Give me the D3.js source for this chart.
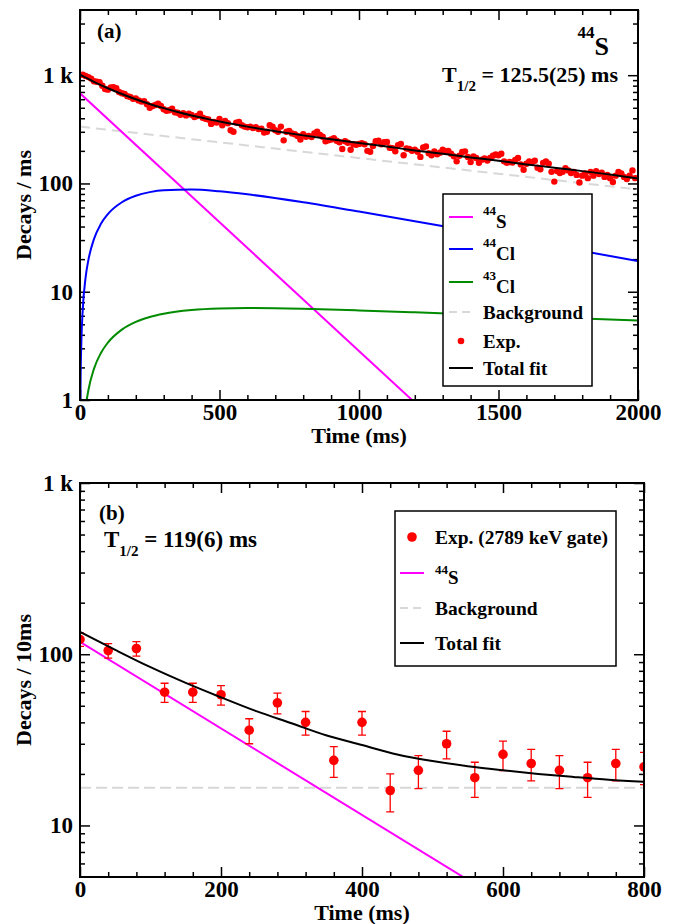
<!DOCTYPE html>
<html>
<head>
<meta charset="utf-8">
<script src="https://cdn.jsdelivr.net/npm/d3@7"></script>
<style>
body { margin: 0; background: #fff; }
svg, svg text { font-family: "Liberation Serif", "DejaVu Serif", serif !important; font-weight: bold; }
</style>
</head>
<body>
<div id="vis"></div>
<script>
// ---------- panel (a) data : decays per ms, 10 ms bins ----------
const A_TIME = [
  0,10,20,30,40,50,60,70,80,90,100,110,120,130,140,150,160,170,180,190,
  200,210,220,230,240,250,260,270,280,290,300,310,320,330,340,350,360,370,380,390,
  400,410,420,430,440,450,460,470,480,490,500,510,520,530,540,550,560,570,580,590,
  600,610,620,630,640,650,660,670,680,690,700,710,720,730,740,750,760,770,780,790,
  800,810,820,830,840,850,860,870,880,890,900,910,920,930,940,950,960,970,980,990,
  1000,1010,1020,1030,1040,1050,1060,1070,1080,1090,1100,1110,1120,1130,1140,1150,1160,1170,1180,1190,
  1200,1210,1220,1230,1240,1250,1260,1270,1280,1290,1300,1310,1320,1330,1340,1350,1360,1370,1380,1390,
  1400,1410,1420,1430,1440,1450,1460,1470,1480,1490,1500,1510,1520,1530,1540,1550,1560,1570,1580,1590,
  1600,1610,1620,1630,1640,1650,1660,1670,1680,1690,1700,1710,1720,1730,1740,1750,1760,1770,1780,1790,
  1800,1810,1820,1830,1840,1850,1860,1870,1880,1890,1900,1910,1920,1930,1940,1950,1960,1970,1980,1990
];
const A_COUNTS = [
  1005,1010,985,960,930, 880,870,860,800,745, 735,770,775,760,700, 680,670,640,630,605,
  610,585,570,575,540, 500,520,530,545,520, 485,470,475,490,455, 450,430,445,425,440,
  430,410,420,440,405, 395,390,355,370,365, 395,345,378,360,310, 300,365,370,345,335,
  330,335,325,330,318, 320,295,300,345,335, 310,300,335,250,300, 305,290,285,275,255,
  285,270,275,268,290, 300,280,270,245,250, 255,262,248,240,208, 245,238,205,230,228,
  232,236,230,200,196, 222,245,248,230,240, 242,214,212,198,226, 232,182,210,208,200,
  205,196,176,215,220, 190,182,198,186,192, 205,198,200,188,178, 160,180,195,198,176,
  158,178,172,155,166, 170,163,172,180,185, 182,188,160,155,158, 156,165,172,150,134,
  152,160,157,162,140, 135,155,160,152,128, 104,130,125,128,138, 132,125,128,120,102,
  118,124,112,128,118, 130,122,126,115,120, 112,103,118,128,124, 115,110,118,132,112
];
const A_ERR = [
  10.0,10.0,9.9,9.8,9.6, 9.4,9.3,9.3,8.9,8.6, 8.6,8.8,8.8,8.7,8.4, 8.2,8.2,8.0,7.9,7.8,
  7.8,7.6,7.5,7.6,7.3, 7.1,7.2,7.3,7.4,7.2, 7.0,6.9,6.9,7.0,6.7, 6.7,6.6,6.7,6.5,6.6,
  6.6,6.4,6.5,6.6,6.4, 6.3,6.2,6.0,6.1,6.0, 6.3,5.9,6.1,6.0,5.6, 5.5,6.0,6.1,5.9,5.8,
  5.7,5.8,5.7,5.7,5.6, 5.7,5.4,5.5,5.9,5.8, 5.6,5.5,5.8,5.0,5.5, 5.5,5.4,5.3,5.2,5.0,
  5.3,5.2,5.2,5.2,5.4, 5.5,5.3,5.2,4.9,5.0, 5.0,5.1,5.0,4.9,4.6, 4.9,4.9,4.5,4.8,4.8,
  4.8,4.9,4.8,4.5,4.4, 4.7,4.9,5.0,4.8,4.9, 4.9,4.6,4.6,4.4,4.8, 4.8,4.3,4.6,4.6,4.5,
  4.5,4.4,4.2,4.6,4.7, 4.4,4.3,4.4,4.3,4.4, 4.5,4.4,4.5,4.3,4.2, 4.0,4.2,4.4,4.4,4.2,
  4.0,4.2,4.1,3.9,4.1, 4.1,4.0,4.1,4.2,4.3, 4.3,4.3,4.0,3.9,4.0, 3.9,4.1,4.1,3.9,3.7,
  3.9,4.0,4.0,4.0,3.7, 3.7,3.9,4.0,3.9,3.6, 3.2,3.6,3.5,3.6,3.7, 3.6,3.5,3.6,3.5,3.2,
  3.4,3.5,3.3,3.6,3.4, 3.6,3.5,3.5,3.4,3.5, 3.3,3.2,3.4,3.6,3.5, 3.4,3.3,3.4,3.6,3.3
];

// fitted components of panel (a)
const A_S_T = [0, 1250];
const A_S_V = [680, 0.72];
const A_CL44_T = [1, 2, 5, 10, 20, 30, 50, 75, 100, 150, 200, 250, 300, 400, 500, 600, 800, 1000, 1200, 1400, 1600, 1800, 2000];
const A_CL44_V = [0.72, 1.43, 3.54, 6.97, 13.5, 19.6, 30.6, 42.4, 52.2, 67.1, 77.0, 83.2, 86.6, 87.8, 84.6, 79.4, 67.0, 55.0, 44.8, 36.3, 29.4, 23.8, 19.2];
const A_CL43_T = [10, 20, 30, 50, 75, 100, 150, 200, 250, 300, 400, 500, 600, 800, 1000, 1200, 1400, 1600, 1800, 2000];
const A_CL43_V = [0.43, 0.84, 1.23, 1.94, 2.72, 3.39, 4.47, 5.27, 5.85, 6.27, 6.78, 7.01, 7.07, 6.95, 6.72, 6.45, 6.17, 5.91, 5.65, 5.41];
const A_BG_T = [0, 2000];
const A_BG_V = [335, 88];
const A_FIT_T = [0, 50, 100, 150, 200, 250, 300, 350, 400, 450, 500, 550, 600, 700, 800, 900, 1000, 1100, 1200, 1300, 1400, 1500, 1600, 1700, 1800, 1900, 2000];
const A_FIT_V = [1011, 869, 758, 670, 599, 542, 496, 457, 425, 398, 374, 354, 335, 304, 278, 256, 236, 219, 202, 188, 174, 162, 150, 140, 130, 121, 111];

// ---------- panel (b) data : decays per 10 ms, 2789 keV gate ----------
const B_TIME = [0,40,80,120,160,200,240,280,320,360,400,440,480,520,560,600,640,680,720,760,800];
const B_COUNTS = [122,105,108,60,60,58,36,52,40,24,40,16,21,30,19,26,23,21,19,23,22];
const B_ERR = [11.0,10.2,10.4,7.7,7.7,7.6,6.0,7.2,6.3,4.9,6.3,4.0,4.6,5.5,4.4,5.1,4.8,4.6,4.4,4.8,4.7];
const B_S_T = [0, 600];
const B_S_V = [118, 3.6];
const B_BG_T = [0, 800];
const B_BG_V = [16.6, 16.6];
const B_FIT_T = [0, 50, 100, 150, 200, 250, 300, 350, 400, 450, 500, 550, 600, 650, 700, 750, 800];
const B_FIT_V = [135, 106, 84, 68, 56, 46.5, 39.5, 33.5, 29.5, 26, 23.8, 22.2, 21, 20, 19.2, 18.5, 18];

// ticks and labels
const A_X_MAJOR = [0, 500, 1000, 1500, 2000];
const A_X_LABELS = ["0", "500", "1000", "1500", "2000"];
const A_X_MINOR = [100,200,300,400,600,700,800,900,1100,1200,1300,1400,1600,1700,1800,1900];
const A_Y_MAJOR = [1, 10, 100, 1000];
const A_Y_LABELS = ["1", "10", "100", "1 k"];
const A_Y_MINOR = [2,3,4,5,6,7,8,9,20,30,40,50,60,70,80,90,200,300,400,500,600,700,800,900,2000,3000];
const B_X_MAJOR = [0, 200, 400, 600, 800];
const B_X_LABELS = ["0", "200", "400", "600", "800"];
const B_X_MINOR = [40,80,120,160,240,280,320,360,440,480,520,560,640,680,720,760];
const B_Y_MAJOR = [10, 100, 1000];
const B_Y_LABELS = ["10", "100", "1 k"];
const B_Y_MINOR = [6,7,8,9,20,30,40,50,60,70,80,90,200,300,400,500,600,700,800,900];

// ---------- frame ----------
const FRAME_WIDTH = 676;
const FRAME_HEIGHT = 924;
const BOX_A = {left: 80, right: 638, top: 10, bottom: 400};
const BOX_B = {left: 80, right: 644, top: 483, bottom: 877};
const FONT = "'Liberation Serif', 'DejaVu Serif', serif";

const COL = {s: "#ff00ff", cl44: "#0000ff", cl43: "#008b00", bg: "#d8d8d8", exp: "#ff0000", fit: "#000000"};

const SVG = d3.select("#vis")
  .append("svg")
    .attr("width", FRAME_WIDTH)
    .attr("height", FRAME_HEIGHT)
    .attr("font-family", FONT)
    .attr("font-weight", "bold")
    .style("background", "#fff");

const X_A = d3.scaleLinear().domain([0, 2000]).range([BOX_A.left, BOX_A.right]);
const Y_A = d3.scaleLog().domain([1, 4000]).range([BOX_A.bottom, BOX_A.top]);
const X_B = d3.scaleLinear().domain([0, 800]).range([BOX_B.left, BOX_B.right]);
const Y_B = d3.scaleLog().domain([5, 1000]).range([BOX_B.bottom, BOX_B.top]);

// axes with inward ticks on all four sides
function drawAxes(box, X, Y, xMaj, xMin, xLab, yMaj, yMin, yLab) {
  const g = SVG.append("g");
  const style = (sel) => {
    sel.select(".domain").remove();
    sel.attr("font-family", FONT)
       .attr("font-size", 23)
       .attr("font-weight", "bold");
    sel.selectAll("line").attr("stroke", "#000").attr("stroke-width", 1.5);
  };
  g.append("g").attr("transform", "translate(0," + box.bottom + ")")
    .call(d3.axisBottom(X).tickValues(xMaj).tickSize(-10).tickPadding(4)
      .tickFormat((d) => xLab[xMaj.indexOf(d)])).call(style);
  g.append("g").attr("transform", "translate(0," + box.bottom + ")")
    .call(d3.axisBottom(X).tickValues(xMin).tickSize(-5).tickFormat("")).call(style);
  g.append("g").attr("transform", "translate(0," + box.top + ")")
    .call(d3.axisTop(X).tickValues(xMaj).tickSize(-10).tickFormat("")).call(style);
  g.append("g").attr("transform", "translate(0," + box.top + ")")
    .call(d3.axisTop(X).tickValues(xMin).tickSize(-5).tickFormat("")).call(style);
  g.append("g").attr("transform", "translate(" + box.left + ",0)")
    .call(d3.axisLeft(Y).tickValues(yMaj).tickSize(-10).tickPadding(7)
      .tickFormat((d) => yLab[yMaj.indexOf(d)])).call(style);
  g.append("g").attr("transform", "translate(" + box.left + ",0)")
    .call(d3.axisLeft(Y).tickValues(yMin).tickSize(-5).tickFormat("")).call(style);
  g.append("g").attr("transform", "translate(" + box.right + ",0)")
    .call(d3.axisRight(Y).tickValues(yMaj).tickSize(-10).tickFormat("")).call(style);
  g.append("g").attr("transform", "translate(" + box.right + ",0)")
    .call(d3.axisRight(Y).tickValues(yMin).tickSize(-5).tickFormat("")).call(style);
}

function clip(id, box) {
  SVG.append("clipPath").attr("id", id)
    .append("rect")
      .attr("x", box.left).attr("y", box.top)
      .attr("width", box.right - box.left).attr("height", box.bottom - box.top);
}

function curve(X, Y, ts, vs, color, clipId, dash) {
  const line = d3.line().x((d) => X(d[0])).y((d) => Y(d[1])).curve(d3.curveMonotoneX);
  SVG.append("path")
    .datum(d3.zip(ts, vs))
    .attr("clip-path", "url(#" + clipId + ")")
    .attr("d", line)
    .attr("fill", "none")
    .attr("stroke", color)
    .attr("stroke-width", 2)
    .attr("stroke-dasharray", dash || null);
}

function points(X, Y, ts, vs, es, r, cap, clipId) {
  const g = SVG.append("g").attr("clip-path", "url(#" + clipId + ")");
  const rows = d3.zip(ts, vs, es);
  g.selectAll(".eb").data(rows).enter().append("path")
    .attr("d", (d) => {
      const x = X(d[0]), y1 = Y(d[1] - d[2]), y2 = Y(d[1] + d[2]);
      return "M" + x + "," + y1 + "V" + y2 +
             "M" + (x - cap) + "," + y1 + "H" + (x + cap) +
             "M" + (x - cap) + "," + y2 + "H" + (x + cap);
    })
    .attr("stroke", COL.exp).attr("stroke-width", 1.3).attr("fill", "none");
  g.selectAll(".pt").data(rows).enter().append("circle")
    .attr("cx", (d) => X(d[0]))
    .attr("cy", (d) => Y(d[1]))
    .attr("r", r)
    .attr("fill", COL.exp);
}

function frameRect(box) {
  SVG.append("rect")
    .attr("x", box.left).attr("y", box.top)
    .attr("width", box.right - box.left).attr("height", box.bottom - box.top)
    .attr("fill", "none").attr("stroke", "#000").attr("stroke-width", 2);
}

// text with an optional superscript before the main part
function label(x, y, sup, main, size, supSize, rise, anchor) {
  const t = SVG.append("text").attr("x", x).attr("y", y)
    .attr("font-size", size).attr("text-anchor", anchor || "start");
  if (sup) {
    t.append("tspan").attr("font-size", supSize).attr("dy", -rise).text(sup);
    t.append("tspan").attr("dy", rise).text(main);
  } else {
    t.text(main);
  }
  return t;
}

// T1/2 text with subscript
function halfLife(x, y, value, size, anchor) {
  const t = SVG.append("text").attr("x", x).attr("y", y)
    .attr("font-size", size).attr("text-anchor", anchor);
  t.append("tspan").text("T");
  t.append("tspan").attr("font-size", 15).attr("dy", 9).text("1/2");
  t.append("tspan").attr("dy", -9).text(" = " + value);
}

// ---------------- panel (a) ----------------
clip("clipA", BOX_A);
drawAxes(BOX_A, X_A, Y_A, A_X_MAJOR, A_X_MINOR, A_X_LABELS, A_Y_MAJOR, A_Y_MINOR, A_Y_LABELS);
curve(X_A, Y_A, A_BG_T, A_BG_V, COL.bg, "clipA", "10,6");
curve(X_A, Y_A, A_S_T, A_S_V, COL.s, "clipA");
curve(X_A, Y_A, A_CL44_T, A_CL44_V, COL.cl44, "clipA");
curve(X_A, Y_A, A_CL43_T, A_CL43_V, COL.cl43, "clipA");
points(X_A, Y_A, A_TIME, A_COUNTS, A_ERR, 3.2, 1.8, "clipA");
curve(X_A, Y_A, A_FIT_T, A_FIT_V, COL.fit, "clipA");

// legend (a)
const LEG_A = [
  {sup: "44", name: "S", col: COL.s, kind: "line"},
  {sup: "44", name: "Cl", col: COL.cl44, kind: "line"},
  {sup: "43", name: "Cl", col: COL.cl43, kind: "line"},
  {sup: "", name: "Background", col: COL.bg, kind: "dash"},
  {sup: "", name: "Exp.", col: COL.exp, kind: "dot"},
  {sup: "", name: "Total fit", col: COL.fit, kind: "line"}
];
const LEG_A_Y = [217, 249, 282, 312, 341, 368];
SVG.append("rect").attr("x", 443).attr("y", 194).attr("width", 149).attr("height", 192)
  .attr("fill", "#fff").attr("stroke", "#000").attr("stroke-width", 1.5);
LEG_A.forEach((e, i) => {
  const y = LEG_A_Y[i];
  if (e.kind === "dot") {
    SVG.append("circle").attr("cx", 461).attr("cy", y).attr("r", 3.3).attr("fill", e.col);
  } else {
    SVG.append("line").attr("x1", 449).attr("x2", 473).attr("y1", y).attr("y2", y)
      .attr("stroke", e.col).attr("stroke-width", 2)
      .attr("stroke-dasharray", e.kind === "dash" ? "8,5" : null);
  }
  if (e.sup) label(483, y + 11, e.sup, e.name, 19, 13, 13);
  else label(483, y + 6.5, "", e.name, 19);
});

SVG.append("text").attr("x", 97).attr("y", 38).attr("font-size", 21).text("(a)");
label(609, 55, "44", "S", 26, 17, 17, "end");
halfLife(618, 82, "125.5(25) ms", 22, "end");

SVG.append("text").attr("x", (BOX_A.left + BOX_A.right) / 2).attr("y", 443)
  .attr("font-size", 22).attr("text-anchor", "middle").text("Time (ms)");
SVG.append("text").attr("transform", "translate(31," + ((BOX_A.top + BOX_A.bottom) / 2) + ") rotate(-90)")
  .attr("font-size", 22).attr("text-anchor", "middle").text("Decays / ms");
frameRect(BOX_A);

// ---------------- panel (b) ----------------
clip("clipB", BOX_B);
drawAxes(BOX_B, X_B, Y_B, B_X_MAJOR, B_X_MINOR, B_X_LABELS, B_Y_MAJOR, B_Y_MINOR, B_Y_LABELS);
curve(X_B, Y_B, B_BG_T, B_BG_V, COL.bg, "clipB", "11,5");
curve(X_B, Y_B, B_S_T, B_S_V, COL.s, "clipB");
points(X_B, Y_B, B_TIME, B_COUNTS, B_ERR, 4.8, 4, "clipB");
curve(X_B, Y_B, B_FIT_T, B_FIT_V, COL.fit, "clipB");

// legend (b)
const LEG_B = [
  {sup: "", name: "Exp. (2789 keV gate)", col: COL.exp, kind: "dot"},
  {sup: "44", name: "S", col: COL.s, kind: "line"},
  {sup: "", name: "Background", col: COL.bg, kind: "dash"},
  {sup: "", name: "Total fit", col: COL.fit, kind: "line"}
];
const LEG_B_Y = [537, 573, 608, 643];
SVG.append("rect").attr("x", 395).attr("y", 511).attr("width", 221).attr("height", 155)
  .attr("fill", "#fff").attr("stroke", "#000").attr("stroke-width", 1.5);
LEG_B.forEach((e, i) => {
  const y = LEG_B_Y[i];
  if (e.kind === "dot") {
    SVG.append("circle").attr("cx", 412).attr("cy", y).attr("r", 4.8).attr("fill", e.col);
  } else {
    SVG.append("line").attr("x1", 400).attr("x2", 424).attr("y1", y).attr("y2", y)
      .attr("stroke", e.col).attr("stroke-width", 2)
      .attr("stroke-dasharray", e.kind === "dash" ? "8,5" : null);
  }
  if (e.sup) label(435, y + 11, e.sup, e.name, 19, 13, 10);
  else label(435, y + 6.5, "", e.name, 19.5);
});

SVG.append("text").attr("x", 99).attr("y", 520).attr("font-size", 21).text("(b)");
halfLife(104, 547, "119(6) ms", 23, "start");

SVG.append("text").attr("x", (BOX_B.left + BOX_B.right) / 2).attr("y", 920)
  .attr("font-size", 22).attr("text-anchor", "middle").text("Time (ms)");
SVG.append("text").attr("transform", "translate(31," + ((BOX_B.top + BOX_B.bottom) / 2) + ") rotate(-90)")
  .attr("font-size", 22).attr("text-anchor", "middle").text("Decays / 10ms");
frameRect(BOX_B);
</script>
</body>
</html>
